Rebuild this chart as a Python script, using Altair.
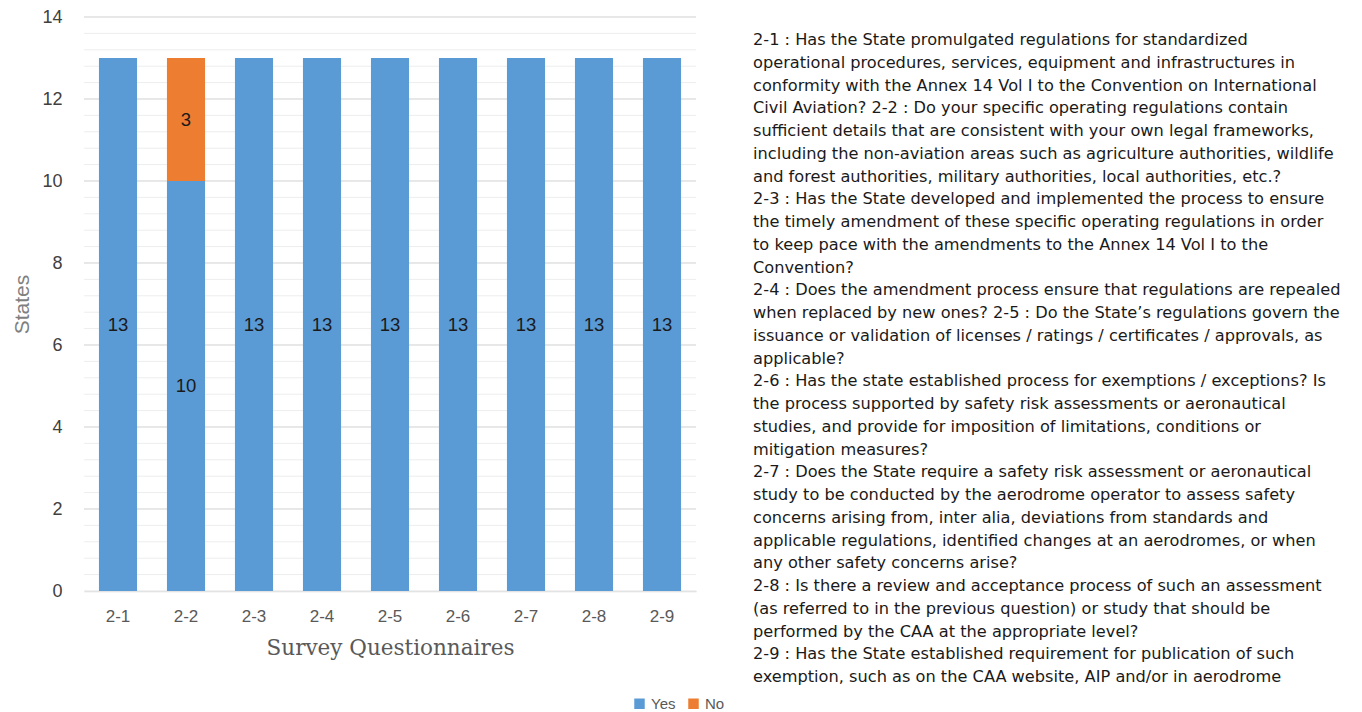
import altair as alt
import pandas as pd

categories = ["2-1", "2-2", "2-3", "2-4", "2-5", "2-6", "2-7", "2-8", "2-9"]
yes_values = [13, 10, 13, 13, 13, 13, 13, 13, 13]
no_values = [0, 3, 0, 0, 0, 0, 0, 0, 0]
series = ["Yes", "No"]
major_ticks = [0, 2, 4, 6, 8, 10, 12, 14]
minor_ticks = [round(i * 0.4, 1) for i in range(36)]

notes = [
    "2-1 : Has the State promulgated regulations for standardized",
    "operational procedures, services, equipment and infrastructures in",
    "conformity with the Annex 14 Vol I to the Convention on International",
    "Civil Aviation? 2-2 : Do your specific operating regulations contain",
    "sufficient details that are consistent with your own legal frameworks,",
    "including the non-aviation areas such as agriculture authorities, wildlife",
    "and forest authorities, military authorities, local authorities, etc.?",
    "2-3 : Has the State developed and implemented the process to ensure",
    "the timely amendment of these specific operating regulations in order",
    "to keep pace with the amendments to the Annex 14 Vol I to the",
    "Convention?",
    "2-4 : Does the amendment process ensure that regulations are repealed",
    "when replaced by new ones? 2-5 : Do the State\u2019s regulations govern the",
    "issuance or validation of licenses / ratings / certificates / approvals, as",
    "applicable?",
    "2-6 : Has the state established process for exemptions / exceptions? Is",
    "the process supported by safety risk assessments or aeronautical",
    "studies, and provide for imposition of limitations, conditions or",
    "mitigation measures?",
    "2-7 : Does the State require a safety risk assessment or aeronautical",
    "study to be conducted by the aerodrome operator to assess safety",
    "concerns arising from, inter alia, deviations from standards and",
    "applicable regulations, identified changes at an aerodromes, or when",
    "any other safety concerns arise?",
    " 2-8 : Is there a review and acceptance process of such an assessment",
    "(as referred to in the previous question) or study that should be",
    "performed by the CAA at the appropriate level?",
    "2-9 : Has the State established requirement for publication of such",
    "exemption, such as on the CAA website, AIP and/or in aerodrome",
]

rows = []
for c, y, n in zip(categories, yes_values, no_values):
    rows.append({"q": c, "answer": "Yes", "value": y, "ord": 0})
    rows.append({"q": c, "answer": "No", "value": n, "ord": 1})
df = pd.DataFrame(rows)

W, H = 612, 574
LINE = 22.75

notes_df = pd.DataFrame({"line": notes, "i": list(range(len(notes)))})

color_scale = alt.Scale(domain=series, range=["#5B9BD5", "#ED7D31"])
y_scale = alt.Scale(domain=[0, 14], nice=False)

grid_minor = alt.Chart(pd.DataFrame({"v": minor_ticks})).mark_rule(
    color="#EDEDED", strokeWidth=1
).encode(y=alt.Y("v:Q", scale=y_scale, axis=None))

grid_major = alt.Chart(pd.DataFrame({"v": major_ticks[1:]})).mark_rule(
    color="#D9D9D9", strokeWidth=1
).encode(y=alt.Y("v:Q", scale=y_scale, axis=None))

bars = alt.Chart(df).mark_bar().encode(
    x=alt.X(
        "q:N",
        sort=categories,
        scale=alt.Scale(paddingInner=0.44, paddingOuter=0.22),
        axis=alt.Axis(
            title="Survey Questionnaires",
            titleFont="DejaVu Serif",
            titleFontSize=21.5,
            titleFontWeight="normal",
            titleColor="#595959",
            titlePadding=13,
            labelFont="Liberation Sans",
            labelFontSize=17,
            labelColor="#595959",
            labelAngle=0,
            labelPadding=17,
            ticks=False,
            domainColor="#D9D9D9",
            domainWidth=1.5,
        ),
    ),
    y=alt.Y(
        "value:Q",
        stack="zero",
        scale=y_scale,
        axis=alt.Axis(
            values=major_ticks,
            title="States",
            titleFont="Liberation Sans",
            titleFontSize=21,
            titleFontWeight="normal",
            titleColor="#7F7F7F",
            titlePadding=9,
            labelFont="Liberation Sans",
            labelFontSize=18,
            labelColor="#404040",
            labelPadding=22,
            ticks=False,
            domain=False,
            grid=False,
            orient="left",
        ),
    ),
    color=alt.Color(
        "answer:N",
        scale=color_scale,
        legend=alt.Legend(
            title=None,
            orient="none",
            direction="horizontal",
            legendX=548,
            legendY=679,
            symbolType="square",
            symbolSize=110,
            symbolStrokeWidth=0,
            labelFont="Liberation Sans",
            labelFontSize=15,
            labelColor="#595959",
            columnPadding=10,
            labelOffset=4,
        ),
    ),
    order=alt.Order("ord:Q"),
)

labels = alt.Chart(df).transform_filter(
    alt.datum.value > 0
).transform_stack(
    stack="value", groupby=["q"], as_=["y0", "y1"], sort=[alt.SortField("ord")]
).transform_calculate(
    mid="(datum.y0 + datum.y1) / 2"
).mark_text(
    font="Liberation Sans", fontSize=18.5, color="#1a1a1a"
).encode(
    x=alt.X("q:N", sort=categories),
    y=alt.Y("mid:Q", scale=y_scale, axis=None),
    text=alt.Text("value:Q"),
)

notes_layer = alt.Chart(notes_df).transform_calculate(
    py=f"23 + datum.i * {LINE}"
).mark_text(
    align="left", baseline="middle", font="DejaVu Sans", fontSize=16.2, color="#1a1a1a"
).encode(
    x=alt.value(669),
    y=alt.Y("py:Q", scale=None, axis=None),
    text="line:N",
)

chart = alt.layer(grid_minor, grid_major, bars, labels, notes_layer).resolve_axis(
    y="independent"
).properties(
    width=W,
    height=H,
    autosize=alt.AutoSizeParams(type="none"),
    padding={"left": 76, "top": 9, "right": 1346 - 76 - W, "bottom": 712 - 9 - H},
).configure_view(stroke=None)

chart.save("out.html", embed_options={"renderer": "svg", "actions": False})
